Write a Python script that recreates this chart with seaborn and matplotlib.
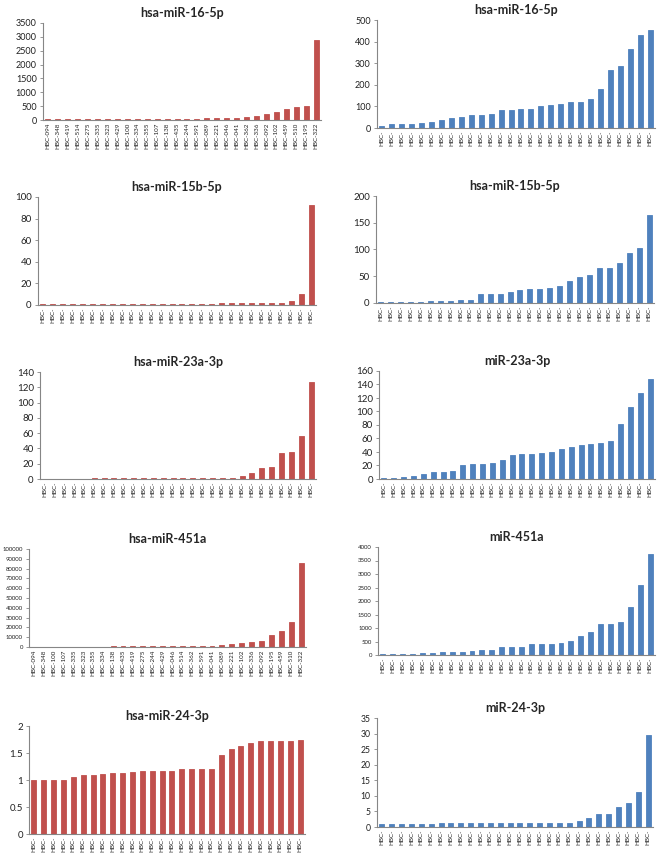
import numpy as np
import pandas as pd
import seaborn as sns
import matplotlib.pyplot as plt

sns.set_style("white")
plt.rcParams['font.family'] = ['Lato', 'DejaVu Sans']

RED = "#C0504D"
BLUE = "#4F81BD"

# sample labels
labels_mir16 = ["HBC-094", "HBC-348", "HBC-419", "HBC-514", "HBC-275", "HBC-335", "HBC-323",
                "HBC-429", "HBC-100", "HBC-334", "HBC-355", "HBC-107", "HBC-138", "HBC-435",
                "HBC-244", "HBC-591", "HBC-089", "HBC-221", "HBC-046", "HBC-041", "HBC-362",
                "HBC-336", "HBC-092", "HBC-102", "HBC-459", "HBC-510", "HBC-195", "HBC-322"]
labels_mir451 = ["HBC-094", "HBC-348", "HBC-100", "HBC-107", "HBC-335", "HBC-323", "HBC-355",
                 "HBC-334", "HBC-138", "HBC-435", "HBC-419", "HBC-275", "HBC-244", "HBC-429",
                 "HBC-046", "HBC-514", "HBC-362", "HBC-591", "HBC-041", "HBC-089", "HBC-221",
                 "HBC-102", "HBC-336", "HBC-092", "HBC-195", "HBC-459", "HBC-510", "HBC-322"]
labels_short = ["HBC-"] * 28

# left column (red)
mir16_left = [30, 32, 35, 35, 38, 40, 40, 40, 42, 42, 43, 45, 45, 48, 48, 50, 55, 70,
              75, 80, 100, 150, 200, 280, 390, 470, 520, 2900]
mir15b_left = [0.6, 0.7, 0.7, 0.7, 0.8, 0.8, 0.8, 0.8, 0.9, 0.9, 0.9, 0.9, 1.0, 1.0,
               1.0, 1.0, 1.0, 1.3, 1.4, 1.4, 1.5, 1.5, 1.5, 1.6, 1.6, 3.5, 10.5, 93]
mir23a_left = [0.5, 0.5, 0.6, 0.6, 0.6, 0.7, 0.7, 0.7, 0.8, 0.8, 0.8, 0.8, 0.9, 0.9,
               0.9, 1.0, 1.0, 1.0, 1.0, 1.2, 3.5, 8.5, 14, 16, 33.5, 35.5, 56, 127]
mir451_left = [300, 350, 400, 400, 450, 450, 500, 500, 550, 550, 600, 600, 650, 700,
               700, 750, 800, 1200, 1500, 2500, 3000, 4500, 4600, 6000, 12000, 16500, 26000, 86000]
mir24_left = [1.0, 1.0, 1.0, 1.0, 1.06, 1.1, 1.1, 1.11, 1.13, 1.13, 1.14, 1.16, 1.17, 1.17,
              1.17, 1.2, 1.2, 1.2, 1.21, 1.47, 1.57, 1.63, 1.68, 1.72, 1.72, 1.73, 1.73, 1.75]

# right column (blue)
mir16_right = [10, 18, 20, 20, 25, 28, 35, 45, 52, 62, 62, 65, 83, 83, 86, 86, 103, 107,
               110, 120, 120, 132, 180, 267, 288, 368, 430, 455]
mir15b_right = [1, 1, 1, 1.5, 1.5, 3, 3, 4, 6, 6, 17, 17, 17, 20, 25, 26, 26, 28, 31, 41,
                49, 52, 65, 65, 74, 93, 103, 164]
mir23a_right = [1, 1, 2.5, 5, 7, 10, 11, 12, 20, 22, 22, 23, 28, 36, 37, 37, 39, 40, 45,
                48, 50, 52, 54, 56, 81, 107, 128, 148]
mir451_right = [30, 50, 55, 55, 80, 80, 110, 110, 110, 140, 190, 200, 280, 310, 310, 390,
                390, 420, 440, 530, 720, 860, 1130, 1160, 1220, 1770, 2600, 3750]
mir24_right = [1, 1, 1, 1, 1, 1, 1.2, 1.2, 1.2, 1.4, 1.4, 1.4, 1.4, 1.4, 1.4, 1.4, 1.4,
               1.4, 1.4, 1.4, 2, 3, 4.3, 4.3, 6.5, 7.8, 11.2, 29.5]

W, H = 658, 855
fig = plt.figure(figsize=(W / 100, H / 100), dpi=100)

# (title, values, labels, color, pixel box left/right/top/bottom, ymax, ystep, ytick size)
panels = [
    ("hsa-miR-16-5p", mir16_left, labels_mir16, RED, (43, 321, 23, 120), 3500, 500, 6.5),
    ("hsa-miR-16-5p", mir16_right, labels_short, BLUE, (377, 655, 20, 128), 500, 100, 6.5),
    ("hsa-miR-15b-5p", mir15b_left, labels_short, RED, (38, 316, 197, 305), 100, 20, 7),
    ("hsa-miR-15b-5p", mir15b_right, labels_short, BLUE, (376, 654, 196, 303), 200, 50, 7),
    ("hsa-miR-23a-3p", mir23a_left, labels_short, RED, (40, 316, 372, 479), 140, 20, 7),
    ("miR-23a-3p", mir23a_right, labels_short, BLUE, (379, 655, 371, 479), 160, 20, 7),
    ("hsa-miR-451a", mir451_left, labels_mir451, RED, (29, 306, 549, 647), 100000, 10000, 4.3),
    ("miR-451a", mir451_right, labels_short, BLUE, (378, 655, 547, 655), 4000, 500, 4.3),
    ("hsa-miR-24-3p", mir24_left, labels_short, RED, (29, 305, 726, 834), 2, 0.5, 7),
    ("miR-24-3p", mir24_right, labels_short, BLUE, (377, 653, 718, 827), 35, 5, 6.2),
]

for title, vals, labs, col, box, ymax, ystep, yfs in panels:
    l, r, t, b = box
    ax = fig.add_axes([l / W, 1 - b / H, (r - l) / W, (b - t) / H])
    df = pd.DataFrame({"pos": np.arange(len(vals)), "val": vals})
    # thin edge in the bar colour so the tiny bars still show, like Excel
    sns.barplot(data=df, x="pos", y="val", color=col, width=0.5, saturation=1,
                edgecolor=col, linewidth=0.6, ax=ax)
    ax.set_xlim(-0.5, len(vals) - 0.5)
    ax.set_ylim(0, ymax)
    yt = np.arange(0, ymax + ystep / 2, ystep)
    ax.set_yticks(yt)
    ax.set_yticklabels(["{:g}".format(v) for v in yt], fontsize=yfs, color="#222222")
    ax.set_xticks(np.arange(len(vals)))
    ax.set_xticklabels(labs, rotation=90, fontsize=4.5, color="#222222")
    ax.set_xticks(np.arange(len(vals) + 1) - 0.5, minor=True)
    ax.tick_params(axis="x", which="major", length=0, pad=2)
    ax.tick_params(axis="x", which="minor", length=2.5, color="#868686", width=0.6)
    ax.tick_params(axis="y", length=2.5, color="#868686", width=0.6, pad=2, left=True)
    ax.set_xlabel("")
    ax.set_ylabel("")
    for s in ["top", "right"]:
        ax.spines[s].set_visible(False)
    for s in ["left", "bottom"]:
        ax.spines[s].set_color("#868686")
        ax.spines[s].set_linewidth(0.8)
    ax.set_title(title, fontsize=9, fontweight="bold", pad=4)

fig.savefig("out.png", dpi=100)
